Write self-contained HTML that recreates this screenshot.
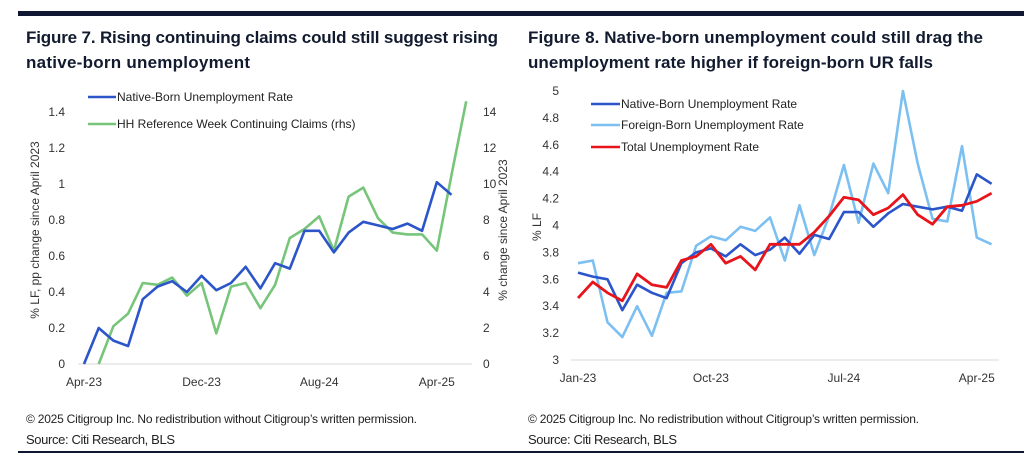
<!DOCTYPE html>
<html><head><meta charset="utf-8"><style>
html,body{margin:0;padding:0;background:#fff;}
svg{display:block;font-family:"Liberation Sans",sans-serif;}
</style></head><body>
<svg id="s" width="1024" height="462" xmlns="http://www.w3.org/2000/svg">
<rect x="18" y="11" width="1006" height="5" fill="#0f1733"/>
<rect x="18" y="451" width="1006" height="2" fill="#0f1733"/>
<g font-weight="bold" font-size="17" fill="#111a2e">
<text x="26" y="43" textLength="472">Figure 7. Rising continuing claims could still suggest rising</text>
<text x="26" y="68" textLength="224">native-born unemployment</text>
<text x="528" y="43" textLength="455">Figure 8. Native-born unemployment could still drag the</text>
<text x="528" y="68" textLength="405">unemployment rate higher if foreign-born UR falls</text>
</g>
<g font-size="12" fill="#222">
<text x="26" y="423" textLength="391">© 2025 Citigroup Inc. No redistribution without Citigroup’s written permission.</text>
<text x="26" y="444" font-size="13" textLength="149">Source: Citi Research, BLS</text>
<text x="528" y="423" textLength="391">© 2025 Citigroup Inc. No redistribution without Citigroup’s written permission.</text>
<text x="528" y="444" font-size="13" textLength="149">Source: Citi Research, BLS</text>
</g>
<g id="c1"></g><g id="c2"></g>
</svg>
<script>
// Figure 7 data
const f7Native=[0,0.2,0.13,0.1,0.36,0.43,0.46,0.4,0.49,0.41,0.45,0.54,0.42,0.56,0.53,0.74,0.74,0.62,0.73,0.79,0.77,0.75,0.78,0.74,1.01,0.94];
const f7Claims=[null,0,2.1,2.8,4.5,4.4,4.8,3.8,4.5,1.7,4.3,4.5,3.1,4.4,7.0,7.5,8.2,6.3,9.3,9.8,8.1,7.3,7.2,7.2,6.3,10.5,14.6];
const f7LeftTicks=["0","0.2","0.4","0.6","0.8","1","1.2","1.4"];
const f7RightTicks=["0","2","4","6","8","10","12","14"];
const f7XLabels=[[0,"Apr-23"],[8,"Dec-23"],[16,"Aug-24"],[24,"Apr-25"]];
// Figure 8 data
const f8Native=[3.65,3.62,3.60,3.37,3.56,3.50,3.46,3.72,3.80,3.83,3.77,3.86,3.78,3.82,3.91,3.79,3.93,3.90,4.10,4.10,3.99,4.09,4.16,4.14,4.12,4.14,4.11,4.38,4.31];
const f8Foreign=[3.72,3.74,3.28,3.17,3.40,3.18,3.50,3.51,3.85,3.92,3.89,3.99,3.96,4.06,3.74,4.15,3.78,4.07,4.45,4.02,4.46,4.24,5.0,4.46,4.05,4.03,4.59,3.91,3.86];
const f8Total=[3.46,3.58,3.50,3.44,3.64,3.56,3.54,3.74,3.77,3.86,3.72,3.77,3.67,3.86,3.86,3.86,3.95,4.07,4.21,4.19,4.08,4.13,4.23,4.08,4.01,4.14,4.15,4.18,4.24];
const f8YTicks=["3","3.2","3.4","3.6","3.8","4","4.2","4.4","4.6","4.8","5"];
const f8XLabels=[[0,"Jan-23"],[9,"Oct-23"],[18,"Jul-24"],[27,"Apr-25"]];

const NS="http://www.w3.org/2000/svg";
function mk(parent,tag,attrs,txt){const e=document.createElementNS(NS,tag);for(const k in attrs)e.setAttribute(k,attrs[k]);if(txt!=null)e.textContent=txt;parent.appendChild(e);return e;}
function path(vals,fx,fy){let d="";let pen=false;vals.forEach((v,i)=>{if(v==null){pen=false;return;}d+=(pen?"L":"M")+fx(i).toFixed(1)+","+fy(v).toFixed(1);pen=true;});return d;}

// Chart 1
const c1=document.getElementById("c1");
const x1=i=>84+i*14.7, yL=v=>364-v/1.4*252, yR=v=>364-v/14*252;
let l=mk(c1,"line",{x1:78,x2:472,y1:364,y2:364,stroke:"#d9d9d9","stroke-width":1});


f7LeftTicks.forEach((t,i)=>{const e=mk(c1,"text",{x:65,y:yL(i*0.2)+4,"text-anchor":"end","font-size":12,fill:"#333"},t);

});
f7RightTicks.forEach((t,i)=>{const e=mk(c1,"text",{x:483,y:yR(i*2)+4,"font-size":12,fill:"#333"},t);

});
f7XLabels.forEach(([i,t])=>{const e=mk(c1,"text",{x:x1(i),y:386,"text-anchor":"middle","font-size":12,fill:"#333"},t);

});
let e=mk(c1,"text",{transform:"translate(39,230) rotate(-90)","text-anchor":"middle","font-size":12,fill:"#333"},"% LF, pp change since April 2023");


e=mk(c1,"text",{transform:"translate(507,230) rotate(-90)","text-anchor":"middle","font-size":12,fill:"#333"},"% change since April 2023");


e=mk(c1,"path",{d:path(f7Claims,x1,yR),fill:"none",stroke:"#77c57a","stroke-width":2.6,"stroke-linejoin":"round"});


e=mk(c1,"path",{d:path(f7Native,x1,yL),fill:"none",stroke:"#2b55c9","stroke-width":2.6,"stroke-linejoin":"round"});


[["#2b55c9","Native-Born Unemployment Rate",97],["#77c57a","HH Reference Week Continuing Claims (rhs)",124]].forEach(([c,t,y])=>{
const g=mk(c1,"g",{});


mk(g,"line",{x1:88,x2:116,y1:y,y2:y,stroke:c,"stroke-width":2.6});
mk(g,"text",{x:117,y:y+4,"font-size":12,fill:"#222"},t);});

// Chart 2
const c2=document.getElementById("c2");
const x2=i=>578+i*14.77, y2=v=>360-(v-3)/2*269;
l=mk(c2,"line",{x1:571,x2:999,y1:360,y2:360,stroke:"#d9d9d9","stroke-width":1});


f8YTicks.forEach((t,i)=>{const e=mk(c2,"text",{x:559,y:y2(3+i*0.2)+4,"text-anchor":"end","font-size":12,fill:"#333"},t);

});
f8XLabels.forEach(([i,t])=>{const e=mk(c2,"text",{x:x2(i),y:382,"text-anchor":"middle","font-size":12,fill:"#333"},t);

});
e=mk(c2,"text",{transform:"translate(541,227) rotate(-90)","text-anchor":"middle","font-size":12,fill:"#333"},"% LF");


e=mk(c2,"path",{d:path(f8Foreign,x2,y2),fill:"none",stroke:"#7cc0f2","stroke-width":2.6,"stroke-linejoin":"round"});


e=mk(c2,"path",{d:path(f8Native,x2,y2),fill:"none",stroke:"#2b55c9","stroke-width":2.6,"stroke-linejoin":"round"});


e=mk(c2,"path",{d:path(f8Total,x2,y2),fill:"none",stroke:"#e8141b","stroke-width":2.8,"stroke-linejoin":"round"});


[["#2b55c9","Native-Born Unemployment Rate",104],["#7cc0f2","Foreign-Born Unemployment Rate",125],["#e8141b","Total Unemployment Rate",147]].forEach(([c,t,y])=>{
const g=mk(c2,"g",{});


mk(g,"line",{x1:591,x2:620,y1:y,y2:y,stroke:c,"stroke-width":2.6});
mk(g,"text",{x:621,y:y+4,"font-size":12,fill:"#222"},t);});
</script>
</body></html>
